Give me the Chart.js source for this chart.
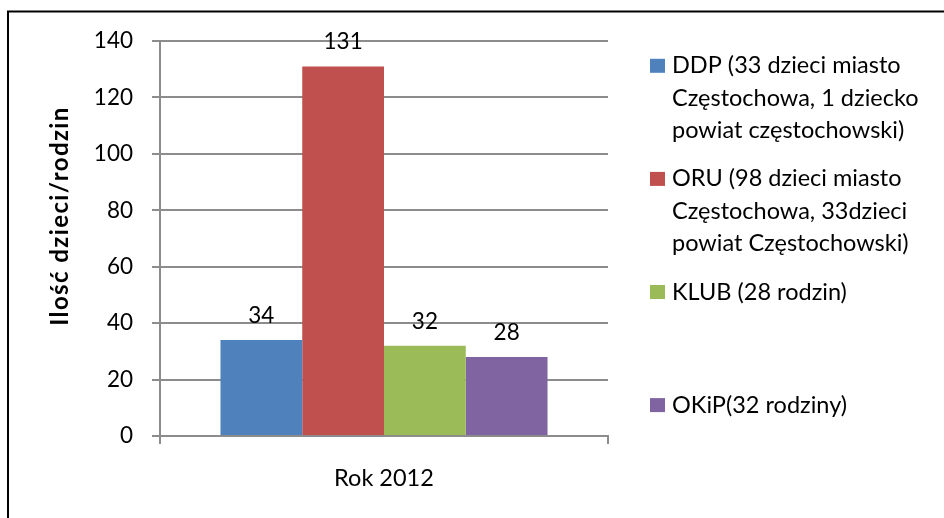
<!DOCTYPE html>
<html>
<head>
<meta charset="utf-8">
<script src="https://cdn.jsdelivr.net/npm/chart.js@4/dist/chart.umd.min.js"></script>
<style>
  html, body { margin: 0; padding: 0; background: #fff; }
  #wrap { width: 944px; height: 518px; }
</style>
</head>
<body>
<div id="wrap"><canvas id="myChart" width="944" height="518"></canvas></div>
<script>
// ------------------------------
// Data
// ------------------------------
const categories = ['Rok 2012'];
const seriesNames = ['DDP', 'ORU', 'KLUB', 'OKiP'];
const seriesValues = [34, 131, 32, 28];
const seriesColors = ['#4F81BD', '#C0504D', '#9BBB59', '#8064A2'];
// legend text, one array of wrapped lines per series
const legendLines = [
    ['DDP (33 dzieci miasto', 'Częstochowa, 1 dziecko', 'powiat częstochowski)'],
    ['ORU (98 dzieci miasto', 'Częstochowa, 33dzieci', 'powiat Częstochowski)'],
    ['KLUB (28 rodzin)'],
    ['OKiP(32 rodziny)']
];
const yTicks = { min: 0, max: 140, step: 20 };
const yTitle = 'Ilość dzieci/rodzin';

const FONT = 'Lato';
const gridColor = '#8c8c8c';

// ------------------------------
// Extra drawing: frame, value labels, legend, axis title
// ------------------------------
const extras = {
    id: 'extras',
    afterDraw(chart) {
        const ctx = chart.ctx;
        ctx.save();

        // outer frame (runs off the right and bottom edge)
        ctx.strokeStyle = '#000';
        ctx.lineWidth = 2;
        ctx.strokeRect(8, 11.5, 1000, 600);

        // value labels above bars
        ctx.fillStyle = '#000';
        ctx.font = `22.5px ${FONT}`;
        ctx.textAlign = 'center';
        ctx.textBaseline = 'alphabetic';
        chart.data.datasets.forEach((ds, i) => {
            chart.getDatasetMeta(i).data.forEach((bar, j) => {
                ctx.fillText(String(ds.data[j]), bar.x, bar.y - 17);
            });
        });

        // legend
        ctx.textAlign = 'left';
        ctx.font = `23.5px ${FONT}`;
        chart.data.datasets.forEach((ds, i) => {
            const base = 73.3 + i * 113.1;
            ctx.fillStyle = ds.backgroundColor;
            ctx.fillRect(650, base - 14.5, 15, 14);
            ctx.fillStyle = '#000';
            legendLines[i].forEach((line, k) => {
                ctx.fillText(line, 672, base + k * 32.5);
            });
        });

        // y axis title
        ctx.translate(60, 216);
        ctx.rotate(-Math.PI / 2);
        ctx.font = `bold 24px ${FONT}`;
        ctx.letterSpacing = '1.4px';
        ctx.textAlign = 'center';
        ctx.textBaseline = 'middle';
        ctx.fillText(yTitle, 0, 0);

        ctx.restore();
    }
};

const c = document.getElementById('myChart').getContext('2d');

new Chart(c, {
    type: 'bar',
    data: {
        labels: categories,
        datasets: seriesNames.map((name, i) => ({
            label: name,
            data: [seriesValues[i]],
            backgroundColor: seriesColors[i],
            borderWidth: 0,
            categoryPercentage: 0.73,
            barPercentage: 1
        }))
    },
    options: {
        responsive: false,
        animation: false,
        layout: { padding: { left: 0, top: 41, right: 336, bottom: 0 } },
        plugins: {
            legend: { display: false },
            tooltip: { enabled: false },
            title: { display: false }
        },
        scales: {
            x: {
                afterFit: (s) => { s.height = 82; },
                grid: { drawOnChartArea: false, drawTicks: true, tickLength: 8, color: gridColor, lineWidth: 2 },
                border: { color: gridColor, width: 2 },
                ticks: { color: '#000', font: { family: FONT, size: 23.5 }, padding: 20 }
            },
            y: {
                min: yTicks.min,
                max: yTicks.max,
                afterFit: (s) => { s.width = 160; },
                grid: { color: gridColor, lineWidth: 2, tickLength: 8 },
                border: { color: gridColor, width: 2 },
                ticks: { stepSize: yTicks.step, color: '#000', font: { family: FONT, size: 22.5 }, padding: 19 }
            }
        }
    },
    plugins: [extras]
});
</script>
</body>
</html>
